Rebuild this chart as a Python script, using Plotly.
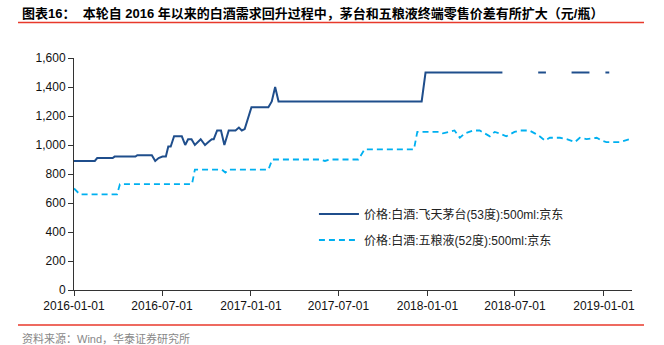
import plotly.graph_objects as go

# Moutai (飞天茅台 53度 500ml 京东) price points
mt_dates = ["2016-01-01", "2016-02-13", "2016-02-18", "2016-03-21", "2016-03-25", "2016-05-07",
            "2016-05-11", "2016-06-10", "2016-06-17", "2016-06-24", "2016-07-02", "2016-07-09",
            "2016-07-14", "2016-07-19", "2016-07-26", "2016-08-11", "2016-08-18", "2016-08-24",
            "2016-08-31", "2016-09-07", "2016-09-19", "2016-09-28", "2016-10-05", "2016-10-12",
            "2016-10-16", "2016-10-23", "2016-10-31", "2016-11-07", "2016-11-16", "2016-11-30",
            "2016-12-07", "2016-12-13", "2016-12-19", "2016-12-25", "2017-01-02", "2017-02-06",
            "2017-02-13", "2017-02-20", "2017-02-27", "2017-12-20", "2017-12-28", "2018-06-05",
            "2018-07-10",
            "2018-08-18", "2018-09-03", "2018-09-20",
            "2018-10-26", "2018-12-02", "2018-12-20",
            "2019-01-04", "2019-01-12"]
mt_values = [890, 890, 910, 910, 920, 920,
             930, 930, 890, 910, 920, 920,
             990, 990, 1060, 1060, 1000, 1040,
             1040, 1000, 1040, 1000, 1020, 1040,
             1040, 1100, 1100, 1000, 1100, 1100,
             1120, 1100, 1110, 1180, 1260, 1260,
             1300, 1400, 1300, 1300, 1500, 1500,
             None,
             1500, 1500, None,
             1500, 1500, None,
             1500, 1500]

# Wuliangye (五粮液 52度 500ml 京东) price points
wl_dates = ["2016-01-01", "2016-01-13", "2016-03-30", "2016-04-05", "2016-09-01", "2016-09-07",
            "2016-11-02", "2016-11-09", "2016-11-16", "2017-02-06", "2017-02-14", "2017-05-23",
            "2017-06-03", "2017-06-13", "2017-08-11", "2017-08-24", "2017-12-04", "2017-12-11",
            "2018-01-26", "2018-02-02", "2018-02-26", "2018-03-09", "2018-03-19", "2018-04-05",
            "2018-04-19", "2018-05-10", "2018-05-20", "2018-05-30", "2018-06-13", "2018-06-30",
            "2018-07-11", "2018-07-31", "2018-08-11", "2018-08-21", "2018-09-01", "2018-09-11",
            "2018-10-02", "2018-10-16", "2018-11-02", "2018-11-12", "2018-11-26", "2018-12-17",
            "2018-12-27", "2019-01-06", "2019-02-03", "2019-02-23"]
wl_values = [700, 660, 660, 730, 730, 830,
             830, 810, 830, 830, 900, 900,
             890, 900, 900, 970, 970, 1090,
             1090, 1080, 1100, 1050, 1080, 1100,
             1100, 1060, 1090, 1080, 1060, 1090,
             1100, 1100, 1080, 1060, 1030, 1050,
             1050, 1040, 1020, 1050, 1040, 1050,
             1030, 1020, 1020, 1040]

y_ticks = [0, 200, 400, 600, 800, 1000, 1200, 1400, 1600]
x_ticks = ["2016-01-01", "2016-07-01", "2017-01-01", "2017-07-01", "2018-01-01", "2018-07-01", "2019-01-01"]

title_text = "<b>图表16：  本轮自 2016 年以来的白酒需求回升过程中，茅台和五粮液终端零售价差有所扩大（元/瓶）</b>"
source_text = "资料来源：Wind，华泰证券研究所"

FONT = "Liberation Sans, Arial, Noto Sans CJK SC, sans-serif"

fig = go.Figure()
fig.add_trace(go.Scatter(
    x=mt_dates, y=mt_values, mode="lines", connectgaps=False,
    name="价格:白酒:飞天茅台(53度):500ml:京东", legendgroup="mt",
    line=dict(color="#1F4E8C", width=2),
))
fig.add_trace(go.Scatter(
    x=wl_dates, y=wl_values, mode="lines",
    name="价格:白酒:五粮液(52度):500ml:京东", legendgroup="wl",
    line=dict(color="#00B0F0", width=1.8, dash="6px,4px"),
))

fig.update_layout(
    width=664, height=345,
    margin=dict(l=74, r=32, t=58, b=55),
    paper_bgcolor="white", plot_bgcolor="white",
    font=dict(family=FONT, size=12, color="#000000"),
    showlegend=True,
    legend=dict(x=0.43, y=(290 - 227) / 232, xanchor="left", yanchor="middle",
                bgcolor="rgba(0,0,0,0)", font=dict(size=12, color="#222222"),
                tracegroupgap=7, itemwidth=40),
    xaxis=dict(
        type="date", range=["2016-01-01", "2019-02-28"],
        tickvals=x_ticks, ticktext=x_ticks,
        showgrid=False, zeroline=False,
        showline=True, linecolor="#333333", linewidth=1,
        ticks="outside", ticklen=5, tickcolor="#333333",
        tickfont=dict(size=12, color="#111111"),
    ),
    yaxis=dict(
        range=[0, 1600], tickvals=y_ticks, tickformat=",",
        showgrid=False, zeroline=False,
        showline=True, linecolor="#333333", linewidth=1,
        ticks="outside", ticklen=5, tickcolor="#333333",
        tickfont=dict(size=12, color="#111111"),
    ),
    annotations=[
        dict(text=title_text, xref="paper", yref="paper", x=-74/558, y=1 + (58 - 13.5) / 232,
             xanchor="left", yanchor="middle", showarrow=False,
             font=dict(size=13, color="#000000", family=FONT), xshift=20),
        dict(text=source_text, xref="paper", yref="paper", x=-74/558, y=-(338.5 - 290) / 232,
             xanchor="left", yanchor="middle", showarrow=False,
             font=dict(size=11, color="#888888", family=FONT), xshift=20),
    ],
    shapes=[
        dict(type="line", xref="paper", yref="paper",
             x0=(18 - 74) / 558, x1=(644 - 74) / 558,
             y0=1 + (58 - 22.5) / 232, y1=1 + (58 - 22.5) / 232,
             line=dict(color="#E8392B", width=1.5)),
        dict(type="line", xref="paper", yref="paper",
             x0=(18 - 74) / 558, x1=(644 - 74) / 558,
             y0=-(325 - 290) / 232, y1=-(325 - 290) / 232,
             line=dict(color="#E8392B", width=1.5)),
    ],
)

fig.write_html("out.html")
